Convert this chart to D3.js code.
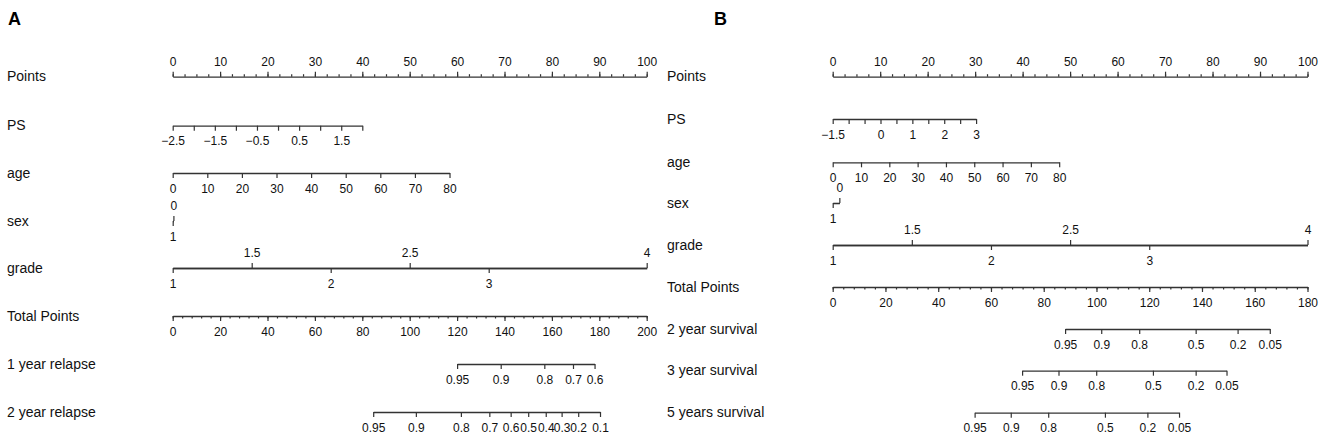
<!DOCTYPE html>
<html>
<head>
<meta charset="utf-8">
<script src="https://d3js.org/d3.v7.min.js"></script>
<style>
  body { margin: 0; background: #fff; }
  text { font-family: "Liberation Sans", Arial, sans-serif; }
</style>
</head>
<body>
<svg width="1325" height="448"></svg>
<script>
// ---- data ----
var panelLabels = ["A", "B"];
var rowNamesA = ["Points", "PS", "age", "sex", "grade", "Total Points", "1 year relapse", "2 year relapse"];
var rowNamesB = ["Points", "PS", "age", "sex", "grade", "Total Points", "2 year survival", "3 year survival", "5 years survival"];

var pointsMajor = d3.range(0, 101, 10);
var pointsMinor = d3.range(0, 100.1, 2.5);

// panel A
var psRangeA = [-2.5, 2.0], psPtsA = [0, 40];
var psTicksA = d3.range(-2.5, 2.01, 0.5);
var psLabelsA = [-2.5, -1.5, -0.5, 0.5, 1.5];
var ageRangeA = [0, 80], agePtsA = [0, 58.4];
var ageLabelsA = d3.range(0, 81, 10);
var sexLevelsA = [0, 1], sexPtsA = [0.15, 0];
var gradeRangeA = [1, 4], gradePtsA = [0, 100];
var gradeAboveA = [1.5, 2.5, 4], gradeBelowA = [1, 2, 3];
var totalMaxA = 200;
var totalLabelsA = d3.range(0, 201, 20);
var totalMinorA = d3.range(0, 201, 4);
var relapse1Probs = [0.95, 0.9, 0.8, 0.7, 0.6];
var relapse1Pts = [120.0, 138.4, 156.8, 168.9, 178.0];
var relapse2Probs = [0.95, 0.9, 0.8, 0.7, 0.6, 0.5, 0.4, 0.3, 0.2, 0.1];
var relapse2Pts = [84.6, 102.6, 121.6, 133.6, 142.6, 150.0, 157.4, 164.1, 171.1, 180.3];

// panel B
var psRangeB = [-1.5, 3], psPtsB = [0, 30.2];
var psTicksB = d3.range(-1.5, 3.01, 0.5);
var psLabelsB = [-1.5, 0, 1, 2, 3];
var ageRangeB = [0, 80], agePtsB = [0, 47.7];
var ageLabelsB = d3.range(0, 81, 10);
var sexLevelsB = [0, 1], sexPtsB = [1.4, 0];
var gradeRangeB = [1, 4], gradePtsB = [0, 100];
var gradeAboveB = [1.5, 2.5, 4], gradeBelowB = [1, 2, 3];
var totalMaxB = 180;
var totalLabelsB = d3.range(0, 181, 20);
var totalMinorB = d3.range(0, 181, 4);
var survProbs = [0.95, 0.9, 0.8, 0.5, 0.2, 0.05];
var surv2Pts = [88.1, 101.8, 116.2, 137.6, 153.5, 165.7];
var surv3Pts = [71.8, 85.6, 99.9, 121.4, 137.6, 149.3];
var surv5Pts = [53.8, 67.5, 81.7, 103.2, 119.3, 131.3];

// ---- drawing ----
var svg = d3.select("svg");
var fmt = function(d) { return d < 0 ? "\u2212" + (-d) : String(d); };

function axis(y, scale, values, labels, side, size) {
  var ax = (side === "top" ? d3.axisTop(scale) : d3.axisBottom(scale))
    .tickValues(values)
    .tickSize(size)
    .tickSizeOuter(0)
    .tickPadding(11 - size)
    .tickFormat(function(d) { return labels && labels.indexOf(d) >= 0 ? fmt(d) : ""; });
  var g = svg.append("g")
    .attr("transform", "translate(0," + y + ")")
    .call(ax)
    .attr("color", "#333")
    .attr("font-size", 12)
    .attr("font-family", "Liberation Sans, Arial, sans-serif");
  g.select(".domain").attr("stroke-width", 1.3);
  g.selectAll(".tick line").attr("stroke-width", 1.2);
  g.selectAll(".tick text").attr("fill", "#111");
  return g;
}

function panel(opt) {
  var pts = d3.scaleLinear().domain([0, 100]).range([opt.x0, opt.x1]);
  var tot = d3.scaleLinear().domain([0, opt.totalMax]).range([opt.x0, opt.x1]);
  var ys = opt.rows;

  svg.append("text").attr("x", opt.lx).attr("y", 25)
    .attr("font-size", 18).attr("font-weight", "bold").attr("fill", "#000")
    .text(opt.label);

  svg.selectAll(null).data(opt.names).enter().append("text")
    .attr("x", opt.nx)
    .attr("y", function(d, i) { return ys[i] + 4.5; })
    .attr("font-size", 14).attr("fill", "#111")
    .text(function(d) { return d; });

  // Points
  axis(ys[0], pts, pointsMinor, null, "top", 2.5).select(".domain").remove();
  axis(ys[0], pts, pointsMajor, pointsMajor, "top", 5);

  // PS
  var ps = d3.scaleLinear().domain(opt.psRange).range(opt.psPts.map(pts));
  axis(ys[1], ps, opt.psTicks, opt.psLabels, "bottom", 5);

  // age
  var age = d3.scaleLinear().domain(opt.ageRange).range(opt.agePts.map(pts));
  axis(ys[2], age, opt.ageLabels, opt.ageLabels, "bottom", 5);

  // sex
  var sex = d3.scaleLinear().domain(opt.sexLevels).range(opt.sexPts.map(pts));
  axis(ys[3], sex, [opt.sexLevels[0]], [opt.sexLevels[0]], "top", 5);
  axis(ys[3], sex, [opt.sexLevels[1]], [opt.sexLevels[1]], "bottom", 5);

  // grade
  var grade = d3.scaleLinear().domain(opt.gradeRange).range(opt.gradePts.map(pts));
  axis(ys[4], grade, opt.gradeAbove, opt.gradeAbove, "top", 5);
  axis(ys[4], grade, opt.gradeBelow, opt.gradeBelow, "bottom", 5);

  // Total Points
  axis(ys[5], tot, opt.totalMinor, null, "bottom", 2.5).select(".domain").remove();
  axis(ys[5], tot, opt.totalLabels, opt.totalLabels, "bottom", 5);

  // outcome probabilities
  opt.outcomes.forEach(function(o, k) {
    var s = d3.scaleLinear().domain(o.probs).range(o.pts.map(tot));
    axis(ys[6 + k], s, o.probs, o.probs, "bottom", 5);
  });
}

panel({
  label: panelLabels[0], lx: 8, nx: 7, x0: 172.7, x1: 646.7,
  rows: [76.7, 125.7, 173, 221, 268, 316, 364, 412],
  names: rowNamesA,
  psRange: psRangeA, psPts: psPtsA, psTicks: psTicksA, psLabels: psLabelsA,
  ageRange: ageRangeA, agePts: agePtsA, ageLabels: ageLabelsA,
  sexLevels: sexLevelsA, sexPts: sexPtsA,
  gradeRange: gradeRangeA, gradePts: gradePtsA, gradeAbove: gradeAboveA, gradeBelow: gradeBelowA,
  totalMax: totalMaxA, totalLabels: totalLabelsA, totalMinor: totalMinorA,
  outcomes: [
    {probs: relapse1Probs, pts: relapse1Pts},
    {probs: relapse2Probs, pts: relapse2Pts}
  ]
});

panel({
  label: panelLabels[1], lx: 714, nx: 667, x0: 832.7, x1: 1307.5,
  rows: [76.7, 119, 162.3, 203, 245, 287, 329, 370.7, 412.7],
  names: rowNamesB,
  psRange: psRangeB, psPts: psPtsB, psTicks: psTicksB, psLabels: psLabelsB,
  ageRange: ageRangeB, agePts: agePtsB, ageLabels: ageLabelsB,
  sexLevels: sexLevelsB, sexPts: sexPtsB,
  gradeRange: gradeRangeB, gradePts: gradePtsB, gradeAbove: gradeAboveB, gradeBelow: gradeBelowB,
  totalMax: totalMaxB, totalLabels: totalLabelsB, totalMinor: totalMinorB,
  outcomes: [
    {probs: survProbs, pts: surv2Pts},
    {probs: survProbs, pts: surv3Pts},
    {probs: survProbs, pts: surv5Pts}
  ]
});
</script>
</body>
</html>
